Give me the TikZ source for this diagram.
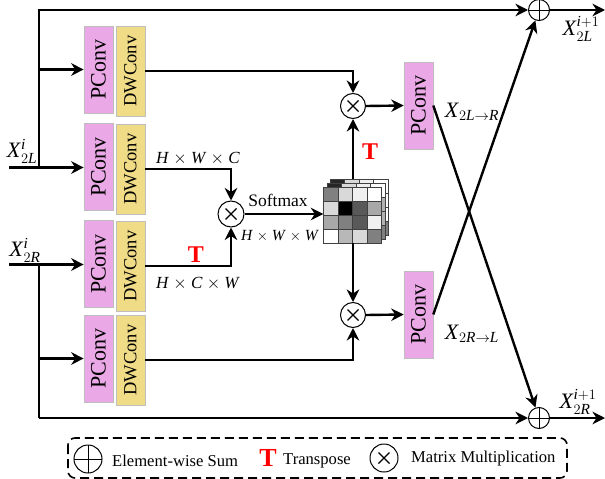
\documentclass[tikz,border=0pt]{standalone}
\usepackage{amsmath}
\usepackage{fontspec}
\setmainfont{Liberation Serif}
\usetikzlibrary{arrows.meta}
\definecolor{pinkbox}{HTML}{EAA9E6}
\definecolor{yellowbox}{HTML}{F0DC87}
\definecolor{boxedge}{HTML}{BEBEBE}
\newcommand{\mi}[1]{\text{\textit{#1}}}
\newcommand{\cubelayer}[3]{%
  \begin{scope}[shift={(#1,#2)}]
    \foreach \c [count=\n from 0] in {#3} {
      \pgfmathtruncatemacro{\cc}{mod(\n,4)}
      \pgfmathtruncatemacro{\rr}{int(\n/4)}
      \filldraw[draw=black!75,line width=0.7pt,fill=black!\c]
        ({\cc*14.5},{\rr*14.1}) rectangle +(14.5,14.1);
    }
  \end{scope}}
\tikzset{
  conn/.style={line width=2.4pt,-{Stealth[length=12.5pt,width=12.5pt,inset=4pt]}},
  plain/.style={line width=2.4pt},
  boxbase/.style={draw=boxedge,line width=0.6pt,inner sep=0pt,rotate=90,anchor=center},
  pconv/.style={boxbase,fill=pinkbox,minimum width=87pt,minimum height=29pt,font=\fontsize{22}{22}\selectfont},
  dwconv/.style={boxbase,fill=yellowbox,minimum width=90pt,minimum height=29pt,font=\fontsize{18.5}{18.5}\selectfont},
  lab/.style={inner sep=0pt,font=\fontsize{17}{17}\selectfont},
  bigmath/.style={inner sep=0pt,font=\fontsize{22}{22}\selectfont},
  leg/.style={inner sep=0pt,font=\fontsize{16.6}{16.6}\selectfont},
  redt/.style={inner sep=0pt,text=red,font=\fontsize{24}{24}\selectfont\bfseries},
  timescirc/.style={circle,draw,fill=white,line width=1pt,inner sep=0pt,minimum size=#1,
    path picture={
      \draw[line width=1.3pt] ([shift={(-5.5pt,-5.5pt)}]path picture bounding box.center) -- ([shift={(5.5pt,5.5pt)}]path picture bounding box.center);
      \draw[line width=1.3pt] ([shift={(-5.5pt,5.5pt)}]path picture bounding box.center) -- ([shift={(5.5pt,-5.5pt)}]path picture bounding box.center);
    }},
  sumcirc/.style={circle,draw,fill=white,line width=1pt,inner sep=0pt,minimum size=#1,
    path picture={
      \draw[line width=1pt] (path picture bounding box.north) -- (path picture bounding box.south);
      \draw[line width=1pt] (path picture bounding box.west) -- (path picture bounding box.east);
    }},
}
\begin{document}
\begin{tikzpicture}[x=1pt,y=-1pt]
\useasboundingbox (0,0) rectangle (605,479);
% boxes
\node[pconv] (p1) at (98.5,69.5) {PConv};
\node[dwconv] (d1) at (130.5,71) {DWConv};
\node[pconv] (p2) at (98.5,167) {PConv};
\node[dwconv] (d2) at (130.5,169) {DWConv};
\node[pconv] (p3) at (98.5,264) {PConv};
\node[dwconv] (d3) at (130.5,266) {DWConv};
\node[pconv] (p4) at (98.5,358.5) {PConv};
\node[dwconv] (d4) at (130.5,360) {DWConv};
\node[pconv] (r1) at (418.5,105.5) {PConv};
\node[pconv] (r2) at (418.5,314.5) {PConv};
% cube
\cubelayer{330}{179}{85,15,6,0,50,15,6,0,50,15,6,0,50,15,6,50}
\cubelayer{327}{183}{85,15,6,0,50,15,6,30,50,15,6,30,50,15,6,50}
\cubelayer{323.5}{187}{50,15,6,0,15,100,65,34,34,50,65,6,0,28,15,50}
\node[minimum width=64.5pt,minimum height=64pt,inner sep=0pt] (cube) at (355.75,211) {};
% operators
\node[timescirc=25pt] (mt) at (353,106) {};
\node[timescirc=25pt] (mb) at (353,315) {};
\node[timescirc=26pt] (mx) at (231,214) {};
\node[sumcirc=21pt] (st) at (539,10) {};
\node[sumcirc=21pt] (sb) at (539,418) {};
% free ends
\coordinate (inL) at (9,167.5);
\coordinate (inR) at (9,264.5);
\coordinate (tL) at (39,167.5);
\coordinate (tR) at (39,264.5);
\coordinate (tt) at (39,10);
\coordinate (tb) at (39,418);
\coordinate (outT) at (605,10);
\coordinate (outB) at (605,418);
% connectors
\draw[conn] (inL) -- (p2.north |- inL);
\draw[conn] (inR) -- (p3.north |- inR);
\draw[plain,line cap=rect] (tL) -- (tt);
\draw[conn] (tt) -- (st);
\draw[plain] (tR) -- (tb);
\draw[conn] (tb) -- (sb);
\draw[conn] (tt |- p1) -- (p1.north);
\draw[conn] (tt |- p4) -- (p4.north);
\draw[conn] (st) -- (outT);
\draw[conn] (sb) -- (outB);
\draw[conn] (d1.south) -| (mt.north);
\draw[conn] (d2.south) -| (mx.north);
\draw[conn] (d3.south) -| (mx.south);
\draw[conn] (d4.south) -| (mb.south);
\draw[conn] (mx.east) -- (cube.west |- mx);
\draw[conn] (mt |- cube.north) -- (mt.south);
\draw[conn] (mb |- cube.south) -- (mb.north);
\draw[conn] (mt.east) -- (r1.north);
\draw[conn] (mb.east) -- (r2.north);
\draw[conn] (r1.south) -- (sb);
\draw[conn] (r2.south) -- (st);
% labels
\node[bigmath] (xl) at (22,151) {$\mi{X}^{\mi{i}}_{2\mi{L}}$};
\node[bigmath] (xr) at (25,250) {$\mi{X}^{\mi{i}}_{2\mi{R}}$};
\node[lab] (a1) at (198,159) {\mi{H} $\times$ \mi{W} $\times$ \mi{C}};
\node[lab] (a2) at (198,284) {\mi{H} $\times$ \mi{C} $\times$ \mi{W}};
\node[lab,font=\fontsize{15.5}{15.5}\selectfont] (a3) at (280,236) {\mi{H} $\times$ \mi{W} $\times$ \mi{W}};
\node[lab,font=\fontsize{17.5}{17.5}\selectfont] (sm) at (278,200) {Softmax};
\node[redt] (t1) at (196,255) {T};
\node[redt] (t2) at (370,152) {T};
\node[bigmath] (x1) at (472,112) {$\mi{X}_{2\mi{L}\rightarrow \mi{R}}$};
\node[bigmath] (x2) at (472,334) {$\mi{X}_{2\mi{R}\rightarrow \mi{L}}$};
\node[bigmath] (x3) at (581,29) {$\mi{X}^{\mi{i}+1}_{2\mi{L}}$};
\node[bigmath] (x4) at (578,402) {$\mi{X}^{\mi{i}+1}_{2\mi{R}}$};
% legend
\draw[line width=1.6pt,dash pattern=on 9pt off 5pt,rounded corners=7pt] (68,438) rectangle (567,478);
\node[sumcirc=28pt] (ls) at (88,459) {};
\node[leg,anchor=west] (lt1) at (112,461) {Element-wise Sum};
\node[redt,font=\fontsize{26}{26}\selectfont\bfseries] (lt) at (268,458) {T};
\node[leg,anchor=west] (lt2) at (283,461) {Transpose};
\node[timescirc=28pt] (lx) at (384,458) {};
\node[leg,anchor=west] (lt3) at (411,459) {Matrix Multiplication};
\end{tikzpicture}
\end{document}
